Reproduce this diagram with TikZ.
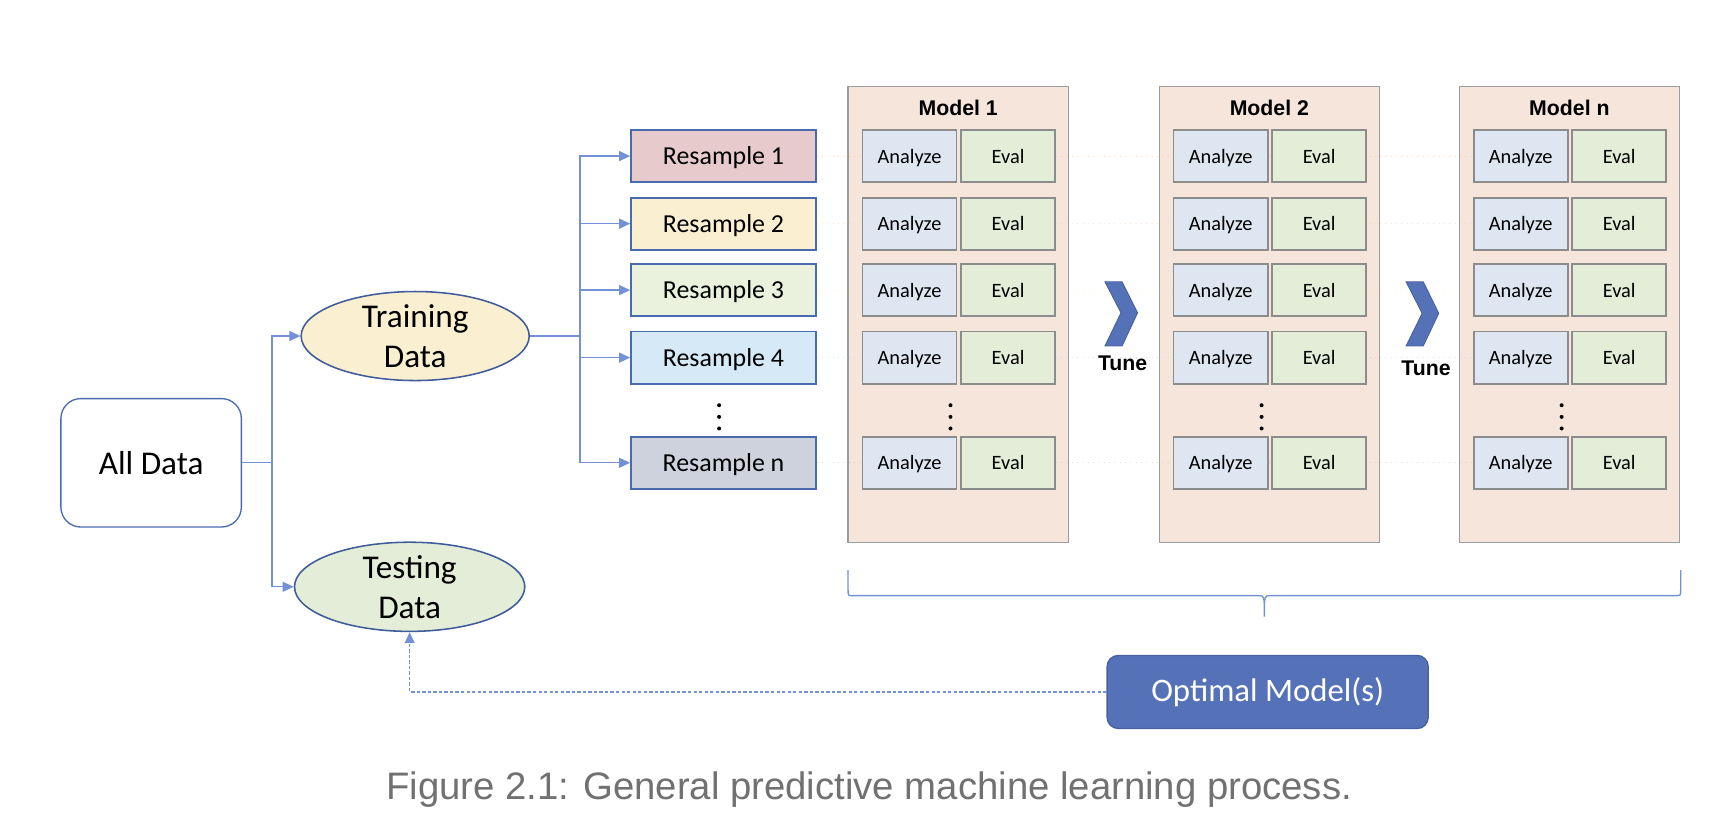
\documentclass[tikz,border=0pt]{standalone}
\usepackage{fontspec}
\setmainfont{Carlito}
\newfontfamily\arialfont{Liberation Sans}
\usetikzlibrary{shapes.geometric,arrows.meta}

\definecolor{lineblue}{HTML}{7391D4}
\definecolor{boxblue}{HTML}{4A6AB0}
\definecolor{ellblue}{HTML}{3F5C98}
\definecolor{panelfill}{HTML}{F5E5DA}
\definecolor{panelgray}{HTML}{9C9C9C}
\definecolor{cellgray}{HTML}{8C8C8C}
\definecolor{anafill}{HTML}{DEE6F2}
\definecolor{evalfill}{HTML}{E3EDD8}
\definecolor{resone}{HTML}{E7CBCC}
\definecolor{restwo}{HTML}{FBEFD2}
\definecolor{resthree}{HTML}{EAF2DE}
\definecolor{resfour}{HTML}{D5E9F7}
\definecolor{resn}{HTML}{CDD2DD}
\definecolor{optfill}{HTML}{5572B9}
\definecolor{captiongray}{HTML}{717171}

\begin{document}
\begin{tikzpicture}[x=0.5pt, y=-0.5pt,
        arr/.style={draw=lineblue, line width=0.6pt, -{Triangle[length=5pt,width=4.5pt]}},
        resbox/.style={draw=boxblue, line width=0.8pt, minimum width=83.5pt, minimum height=23.5pt, inner sep=0pt, text height=10.3pt, text depth=2.5pt, font=\fontsize{11.7}{14}\selectfont},
        cell/.style={draw=cellgray, line width=0.8pt, minimum width=42.5pt, minimum height=23.5pt, inner sep=0pt, text height=8.4pt, text depth=2pt, font=\fontsize{9.2}{11}\selectfont},
        panel/.style={draw=panelgray, fill=panelfill, line width=0.6pt, minimum width=99.5pt, minimum height=206pt, inner sep=0pt},
        datacloud/.style={ellipse, draw=ellblue, line width=0.7pt, inner sep=0pt, align=center, font=\fontsize{15}{18}\selectfont},
        rowline/.style={line width=0.4pt, dotted, opacity=0.5},
        tunetext/.style={font=\arialfont\bfseries\fontsize{9.6}{11}\selectfont}]
        \useasboundingbox (0,0) rectangle (1568,757);

        \node (alldata) [draw=boxblue, line width=0.6pt, rounded corners=9pt, minimum width=81.5pt, minimum height=58pt, font=\fontsize{15}{18}\selectfont] at (136.5,418) {All Data};
        \node (train) [datacloud, fill=restwo, minimum width=103pt, minimum height=38.5pt] at (375,303.5) {Training\\Data};
        \node (test) [datacloud, fill=evalfill, minimum width=104pt, minimum height=40pt] at (370,530) {Testing\\Data};

        \draw[arr] (alldata.east) -- ++(27,0) |- (train.west);
        \draw[arr] (alldata.east) -- ++(27,0) |- (test.west);

        \node (res1) [resbox, fill=resone] at (653.5,141) {Resample 1};
        \node (res2) [resbox, fill=restwo] at (653.5,202) {Resample 2};
        \node (res3) [resbox, fill=resthree] at (653.5,262) {Resample 3};
        \node (res4) [resbox, fill=resfour] at (653.5,323) {Resample 4};
        \node (resn) [resbox, fill=resn] at (653.5,418) {Resample n};
        \foreach \y in {366,376.5,387} \fill (649.5,\y) circle (1.8);

        \coordinate (fork) at (524,303.5);
        \foreach \r in {1,2,3,4,n}
            \draw[arr] (train.east) -- (fork) |- (res\r.west);

        \node (m1) [panel] at (865.5,284) {};
        \node (m2) [panel] at (1146.5,284) {};
        \node (mn) [panel] at (1417.5,284) {};
        \node (t1) [tunetext] at (m1.north |- 0,97) {Model 1};
        \node (t2) [tunetext] at (m2.north |- 0,97) {Model 2};
        \node (tn) [tunetext] at (mn.north |- 0,97) {Model n};

        \draw[rowline, draw=orange!60] (res1.east) -- ([xshift=6.5pt]mn.west |- res1.east);
        \draw[rowline, draw=orange!40] (res2.east) -- ([xshift=6.5pt]mn.west |- res2.east);
        \draw[rowline, draw=yellow!60!orange!40] (res3.east) -- ([xshift=6.5pt]mn.west |- res3.east);
        \draw[rowline, draw=cyan!40] (res4.east) -- ([xshift=6.5pt]mn.west |- res4.east);
        \draw[rowline, draw=gray!50] (resn.east) -- ([xshift=6.5pt]mn.west |- resn.east);

        \foreach \m/\x in {1/766,2/1047,n/1318} {
            \foreach \r/\y in {1/141,2/202,3/262,4/323,n/418} {
                \node (a\m\r) [cell, fill=anafill] at (\x+55.5,\y) {Analyze};
                \node (e\m\r) [cell, fill=evalfill] at (\x+144.5,\y) {Eval};
            }
            \foreach \y in {366,376.5,387} \fill (\x+92.5,\y) circle (1.8);
        }

        \fill[optfill, draw=optfill!85!black, line width=0.4pt] (998,254.5) -- (1013.5,254.5) -- (1027.5,282.5) -- (1013.5,312.5) -- (998,312.5) -- (1012.5,282.5) -- cycle;
        \fill[optfill, draw=optfill!85!black, line width=0.4pt] (1270,254.5) -- (1285.5,254.5) -- (1299.5,283) -- (1285.5,312.5) -- (1270,312.5) -- (1284.5,283) -- cycle;
        \node (tune1) [tunetext] at (1014,328.5) {Tune};
        \node (tune2) [tunetext] at (1288,332.5) {Tune};

        \draw[lineblue, line width=0.6pt] (766,515) -- (766,533) .. controls (766,538) .. (771,538) -- (1137,538)
            .. controls (1142,538) .. (1142,557) .. controls (1142,538) .. (1147,538) -- (1513,538)
            .. controls (1518,538) .. (1518,533) -- (1518,515);

        \node (optimal) [fill=optfill, draw=optfill!85!black, line width=0.6pt, rounded corners=5pt, minimum width=145pt, minimum height=33pt, text=white, font=\fontsize{14.8}{17}\selectfont] at (1145,625) {Optimal Model(s)};
        \draw[lineblue, line width=0.6pt, dash pattern=on 1.5pt off 1pt, -{Triangle[length=5pt,width=4.5pt]}] (optimal.west) -| (test.south);

        \node (caption) [text=captiongray, font=\arialfont\fontsize{17.3}{20}\selectfont] at (785,713) {Figure 2.1: General predictive machine learning process.};
    \end{tikzpicture}
\end{document}
